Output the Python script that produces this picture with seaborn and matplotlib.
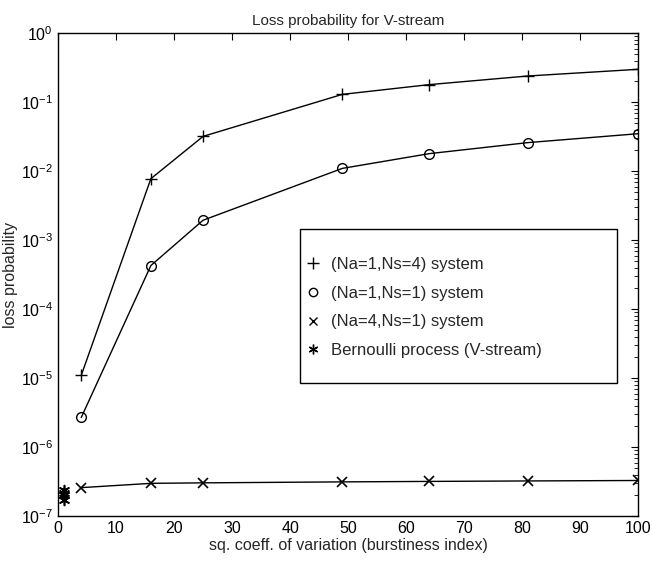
import matplotlib
matplotlib.use("Agg")
import matplotlib.pyplot as plt
from matplotlib.lines import Line2D
from matplotlib.patches import Rectangle
import seaborn as sns

# burstiness index values
scv = [4, 16, 25, 49, 64, 81, 100]
loss_na1_ns4 = [1.1e-5, 7.8e-3, 3.2e-2, 0.13, 0.18, 0.24, 0.30]
loss_na1_ns1 = [2.7e-6, 4.3e-4, 1.95e-3, 1.1e-2, 1.8e-2, 2.6e-2, 3.5e-2]
loss_na4_ns1 = [2.6e-7, 3.0e-7, 3.05e-7, 3.15e-7, 3.2e-7, 3.25e-7, 3.3e-7]
bern_x = [1, 1, 1, 1]
bern_y = [2.4e-7, 2.2e-7, 2.0e-7, 1.7e-7]

labels = ["(Na=1,Ns=4) system", "(Na=1,Ns=1) system",
          "(Na=4,Ns=1) system", "Bernoulli process (V-stream)"]

sns.set_theme(style="white")
plt.rcParams["font.family"] = ["Liberation Sans", "DejaVu Sans"]

fig = plt.figure(figsize=(6.52, 5.63), dpi=100)
ax = fig.add_axes([0.089, 0.083, 0.89, 0.858])

sns.lineplot(x=scv, y=loss_na1_ns4, ax=ax, color="black", marker="+",
             markersize=9, markeredgecolor="black", markeredgewidth=1,
             linewidth=1)
sns.lineplot(x=scv, y=loss_na1_ns1, ax=ax, color="black", marker="o",
             markersize=7, markerfacecolor="none", markeredgecolor="black",
             markeredgewidth=1, linewidth=1)
sns.lineplot(x=scv, y=loss_na4_ns1, ax=ax, color="black", marker="x",
             markersize=7, markeredgecolor="black", markeredgewidth=1.2,
             linewidth=1)
sns.scatterplot(x=bern_x, y=bern_y, ax=ax, color="black", edgecolor="black",
                marker=(6, 2, 0), s=50, linewidth=1.2)

ax.set_yscale("log")
ax.set_xlim(0, 100)
ax.set_ylim(1e-7, 1)
ax.set_xticks(range(0, 101, 10))
ax.set_yticks([10.0 ** k for k in range(-7, 1)])
ax.tick_params(which="both", direction="in", top=True, right=True,
               labelsize=11.5, colors="black")
ax.tick_params(which="major", length=5, width=0.8)
ax.tick_params(which="minor", length=3, width=0.6)
for s in ax.spines.values():
    s.set_color("black")
    s.set_linewidth(1)

ax.set_title("Loss probability for V-stream", fontsize=11)
ax.set_xlabel("sq. coeff. of variation (burstiness index)", fontsize=11.5,
              labelpad=1)
ax.set_ylabel("loss probability", fontsize=11.5, labelpad=2)

# legend box
ax.add_patch(Rectangle((0.417, 0.275), 0.547, 0.319, transform=ax.transAxes,
                       facecolor="white", edgecolor="black", linewidth=1,
                       zorder=4))
handles = [
    Line2D([], [], color="black", marker="+", linestyle="none", markersize=8),
    Line2D([], [], color="black", marker="o", markerfacecolor="none",
           linestyle="none", markersize=6),
    Line2D([], [], color="black", marker="x", linestyle="none", markersize=6),
    Line2D([], [], color="black", marker=(6, 2, 0), linestyle="none",
           markersize=7),
]
leg = ax.legend(handles, labels, loc="center left",
                bbox_to_anchor=(0.428, 0.432), frameon=False, fontsize=12,
                borderpad=0, borderaxespad=0, labelspacing=0.82,
                handletextpad=0.7, handlelength=0.8)
leg.set_zorder(5)

fig.savefig("out.png", dpi=100)
